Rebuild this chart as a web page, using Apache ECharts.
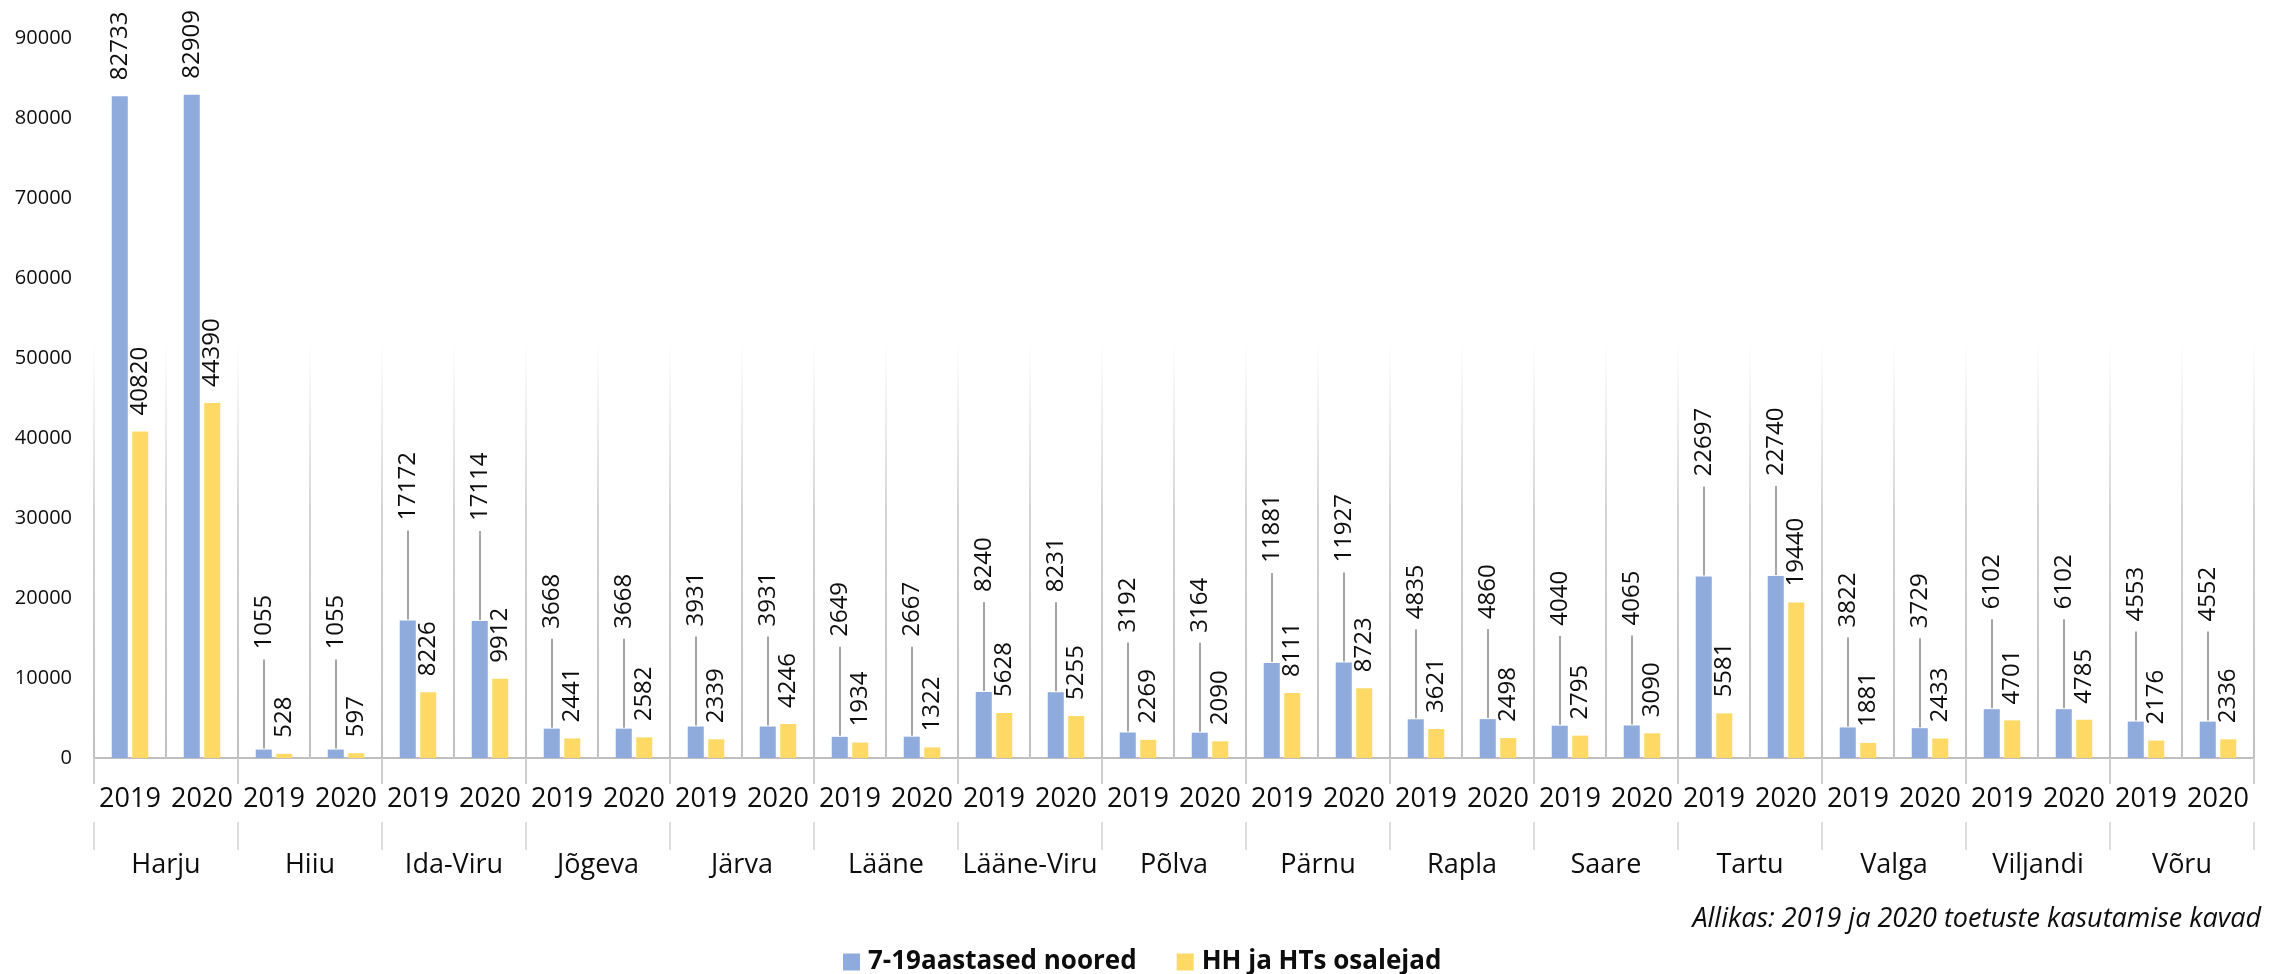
<!DOCTYPE html>
<html>
<head>
<meta charset="utf-8">
<script src="https://cdn.jsdelivr.net/npm/echarts@6/dist/echarts.min.js"></script>
<style>
html,body{margin:0;padding:0;background:#fff;}
#chart{width:2269px;height:974px;}
</style>
</head>
<body>
<div id="chart"></div>
<script>
const counties = ['Harju','Hiiu','Ida-Viru','Jõgeva','Järva','Lääne','Lääne-Viru','Põlva','Pärnu','Rapla','Saare','Tartu','Valga','Viljandi','Võru'];
const years = ['2019','2020'];
const seriesNames = ['7-19aastased noored','HH ja HTs osalejad'];
// values in order: county by county, 2019 then 2020
const youth = [82733,82909,1055,1055,17172,17114,3668,3668,3931,3931,2649,2667,8240,8231,3192,3164,11881,11927,4835,4860,4040,4065,22697,22740,3822,3729,6102,6102,4553,4552];
const participants = [40820,44390,528,597,8226,9912,2441,2582,2339,4246,1934,1322,5628,5255,2269,2090,8111,8723,3621,2498,2795,3090,5581,19440,1881,2433,4701,4785,2176,2336];
const yMin = 0, yMax = 90000, yStep = 10000;
const sourceText = 'Allikas: 2019 ja 2020 toetuste kasutamise kavad';

const slotLabels = [];
counties.forEach(() => years.forEach(y => slotLabels.push(y)));

const FONT = 'Open Sans';
const TXT = '#0d0d0d';
const LABEL_SIZE = 24;
const LIFT = 100;       // distance of lifted labels above the bar
const NEAR = 16;        // distance of labels that stay on the bar
const BAR_W = 16;
const BAR_GAP = 0.28;
const chart = echarts.init(document.getElementById('chart'), null, {renderer: 'canvas'});

const gridLineColor = new echarts.graphic.LinearGradient(0, 0, 0, 1, [
  {offset: 0, color: 'rgba(217,217,217,0)'},
  {offset: 0.42, color: 'rgba(217,217,217,0)'},
  {offset: 0.66, color: '#d4d4d4'},
  {offset: 1, color: '#bfbfbf'}
]);

const labelBase = {
  show: true,
  position: 'top',
  rotate: 90,
  align: 'left',
  verticalAlign: 'middle',
  distance: NEAR,
  fontFamily: FONT,
  fontSize: LABEL_SIZE,
  color: TXT
};

const baseOption = {
  animation: false,
  backgroundColor: '#fff',
  textStyle: {fontFamily: FONT},
  grid: {left: 94, right: 15, top: 38, bottom: 216, containLabel: false},
  legend: {
    left: 838, top: 944,
    icon: 'rect', itemWidth: 17, itemHeight: 17, itemGap: 40,
    textStyle: {fontFamily: FONT, fontSize: 26, fontWeight: 'bold', color: TXT, padding: [0,0,0,3]},
    data: seriesNames
  },
  graphic: [{
    type: 'text', right: 8, top: 906,
    style: {text: sourceText, fontFamily: FONT, fontSize: 27, fontStyle: 'italic', fill: TXT}
  }],
  xAxis: [
    {
      type: 'category', data: slotLabels, position: 'bottom',
      axisLine: {show: true, lineStyle: {color: '#bfbfbf', width: 2}},
      axisTick: {show: false},
      axisLabel: {interval: 0, fontFamily: FONT, fontSize: 27, color: TXT, margin: 28},
      splitLine: {show: true, interval: 0, lineStyle: {color: gridLineColor, width: 2}}
    },
    {
      type: 'category', data: counties, position: 'bottom', offset: 0,
      axisLine: {show: false},
      axisTick: {show: true, interval: 0, length: 26, lineStyle: {color: '#cfcfcf', width: 2}},
      axisLabel: {show: false},
      splitLine: {show: false}
    },
    {
      type: 'category', data: counties, position: 'bottom', offset: 64,
      axisLine: {show: false},
      axisTick: {show: true, interval: 0, length: 28, lineStyle: {color: '#dcdcdc', width: 2}},
      axisLabel: {interval: 0, fontFamily: FONT, fontSize: 27, color: TXT, margin: 30},
      splitLine: {show: false}
    }
  ],
  yAxis: {
    type: 'value', min: yMin, max: yMax, interval: yStep,
    axisLine: {show: false}, axisTick: {show: false},
    splitLine: {show: false},
    axisLabel: {fontFamily: FONT, fontSize: 20, color: TXT, margin: 22, formatter: v => String(v)}
  },
  series: [
    {
      name: seriesNames[0], type: 'bar', xAxisIndex: 0, data: youth,
      barWidth: BAR_W, barGap: (BAR_GAP * 100) + '%',
      itemStyle: {color: '#8faadc'},
      label: labelBase
    },
    {
      name: seriesNames[1], type: 'bar', xAxisIndex: 0, data: participants,
      barWidth: BAR_W,
      itemStyle: {color: '#ffd966'},
      label: labelBase
    }
  ]
};
chart.setOption(baseOption);

// decide which blue labels can be lifted (there must be room above)
const ctx = document.createElement('canvas').getContext('2d');
ctx.font = LABEL_SIZE + 'px "' + FONT + '"';
const lifted = youth.map((v, i) => {
  const py = chart.convertToPixel({xAxisIndex: 0, yAxisIndex: 0}, [i, v])[1];
  const len = ctx.measureText(String(v)).width;
  return py - LIFT - len > 5;
});

const blueCenterShift = -(BAR_W + BAR_W * BAR_GAP) / 2;

chart.setOption({
  series: [
    {
      name: seriesNames[0],
      data: youth.map((v, i) => ({value: v, label: {distance: lifted[i] ? LIFT : NEAR}}))
    },
    {name: seriesNames[1]},
    {
      name: 'leader', type: 'custom', xAxisIndex: 0, yAxisIndex: 0,
      data: youth.map((v, i) => [i, v]),
      silent: true, z: 3,
      renderItem: function (params, api) {
        const i = api.value(0);
        if (!lifted[i]) return null;
        const p = api.coord([i, api.value(1)]);
        const x = Math.round(p[0] + blueCenterShift);
        return {
          type: 'line',
          shape: {x1: x, y1: p[1] - 1, x2: x, y2: p[1] - LIFT + 10},
          style: {stroke: '#a6a6a6', lineWidth: 2}
        };
      }
    }
  ]
});
</script>
</body>
</html>
